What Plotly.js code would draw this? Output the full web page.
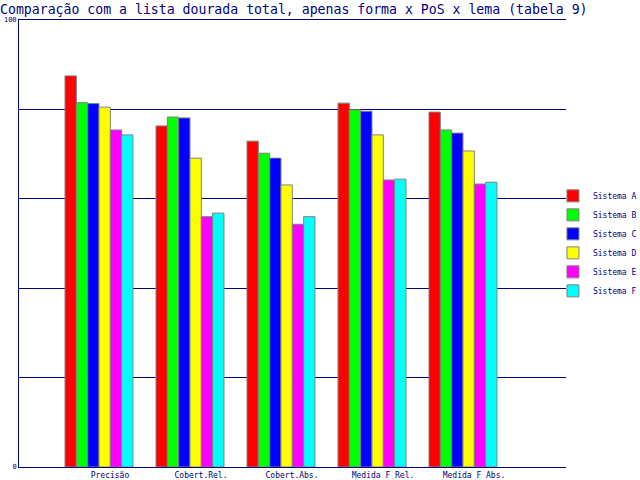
<!DOCTYPE html>
<html><head><meta charset="utf-8">
<script src="https://cdn.plot.ly/plotly-3.0.1.min.js"></script>
<style>html,body{margin:0;padding:0;background:#fff}#chart{width:640px;height:480px}</style>
</head><body><div id="chart"></div>
<script>
const categories = ["Precisão", "Cobert.Rel.", "Cobert.Abs.", "Medida F Rel.", "Medida F Abs."];
const seriesNames = ["Sistema A", "Sistema B", "Sistema C", "Sistema D", "Sistema E", "Sistema F"];
const sistemaA = [87.5, 76.3, 72.9, 81.4, 79.4];
const sistemaB = [81.5, 78.3, 70.2, 79.9, 75.4];
const sistemaC = [81.3, 78.1, 69.1, 79.6, 74.7];
const sistemaD = [80.5, 69.1, 63.1, 74.3, 70.7];
const sistemaE = [75.4, 56.0, 54.3, 64.2, 63.3];
const sistemaF = [74.3, 56.8, 56.0, 64.4, 63.7];
const yTickVals = [0, 20, 40, 60, 80, 100];
const yTickText = ["0", "", "", "", "", "100"];

const allSeries = [sistemaA, sistemaB, sistemaC, sistemaD, sistemaE, sistemaF];
const colors = ["#ff0000", "#00ff00", "#0000ff", "#ffff00", "#ff00ff", "#00ffff"];
const navy = "#000080";
const font = "DejaVu Sans Mono, monospace";

const traces = allSeries.map((vals, i) => ({
  type: "bar",
  name: seriesNames[i],
  x: categories,
  y: vals,
  marker: { color: colors[i], line: { color: "#808080", width: 1 } },
  hoverinfo: "skip"
}));

const layout = {
  width: 640, height: 480,
  margin: { l: 19, r: 74, t: 20, b: 13, pad: 0, autoexpand: false },
  paper_bgcolor: "#ffffff", plot_bgcolor: "#ffffff",
  barmode: "group", bargap: 0.253, bargroupgap: 0,
  title: {
    text: "Comparação com a lista dourada total, apenas forma x PoS x lema (tabela 9)",
    font: { family: font, size: 13.2, color: navy },
    xref: "container", x: 0, xanchor: "left",
    yref: "container", y: 0.981, yanchor: "middle",
    pad: { l: 0, r: 0, t: 0, b: 0 }
  },
  xaxis: {
    type: "category",
    range: [-0.879, 5.132],
    showgrid: false, zeroline: false,
    showline: true, linecolor: navy, linewidth: 1, mirror: true,
    ticks: "", ticklabelshift: 11, ticklabelstandoff: 0,
    tickfont: { family: font, size: 8, color: navy }
  },
  yaxis: {
    range: [0, 100],
    tickvals: yTickVals, ticktext: yTickText,
    showgrid: true, gridcolor: navy, gridwidth: 1,
    zeroline: false,
    showline: true, linecolor: navy, linewidth: 1,
    ticks: "",
    tickfont: { family: font, size: 7, color: navy }
  },
  legend: {
    xref: "container", x: 0.864, xanchor: "left",
    yref: "container", y: 0.493, yanchor: "middle",
    bgcolor: "rgba(0,0,0,0)", borderwidth: 0,
    font: { family: font, size: 8, color: navy },
    itemwidth: 30
  },
  showlegend: true
};

Plotly.newPlot("chart", traces, layout, { displayModeBar: false, staticPlot: true });
</script>
</body></html>
